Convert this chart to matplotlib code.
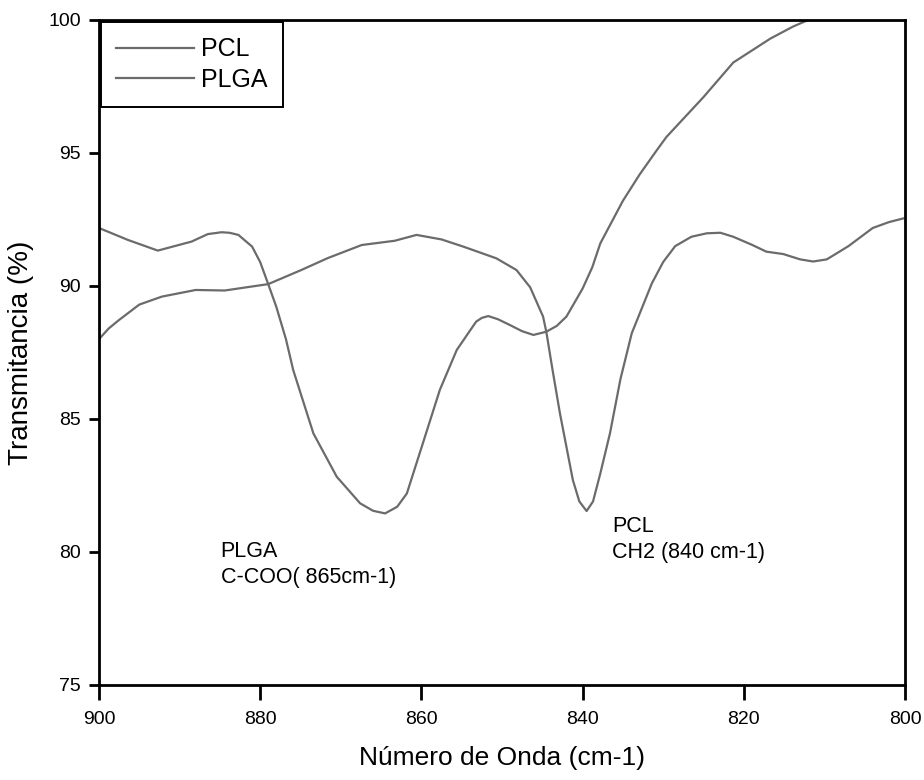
import matplotlib
matplotlib.use('Agg')
import matplotlib.pyplot as plt

# (wavenumber cm-1, transmittance %)
pcl_x = [900, 898.8, 897.6, 895, 892.2, 888, 884.4, 879, 874.9, 871.6, 867.4, 863.3,
         860.6, 857.5, 854.8, 850.7, 848.2, 846.5, 844.9, 844.5, 843.7, 842.8, 841.2,
         840.4, 839.5, 838.7, 837.8, 836.6, 835.3, 833.9, 831.4, 830, 828.5, 826.5,
         824.6, 822.9, 821.3, 819, 817.2, 815.1, 813, 811.4, 809.7, 807, 804, 802, 800.2]
pcl_y = [88.0, 88.4, 88.7, 89.3, 89.6, 89.85, 89.83, 90.07, 90.6, 91.05, 91.54, 91.7,
         91.92, 91.75, 91.48, 91.04, 90.6, 89.95, 88.85, 88.28, 86.8, 85.2, 82.7,
         81.9, 81.54, 81.9, 82.95, 84.46, 86.5, 88.22, 90.1, 90.9, 91.5, 91.85,
         91.98, 92.0, 91.85, 91.55, 91.29, 91.2, 91.0, 90.92, 91.0, 91.5, 92.18, 92.4, 92.54]

plga_x = [900, 896.4, 892.7, 888.5, 886.5, 884.8, 883.8, 882.7, 881, 880, 879, 878,
          876.8, 875.9, 873.4, 870.5, 867.6, 866, 864.5, 863, 861.8, 859.8, 857.7,
          855.6, 853.2, 852.5, 851.7, 850.5, 849, 847.5, 846.1, 844.5, 843.2, 842,
          840, 838.8, 837.8, 835, 832.9, 830.8, 829.6, 825, 821.3, 816.7, 813.9, 812]
plga_y = [92.18, 91.73, 91.33, 91.67, 91.95, 92.02, 92.0, 91.92, 91.48, 90.9, 90.07, 89.22,
          88.0, 86.84, 84.46, 82.83, 81.83, 81.55, 81.45, 81.7, 82.2, 84.1, 86.1,
          87.6, 88.66, 88.8, 88.87, 88.75, 88.53, 88.3, 88.16, 88.28, 88.5, 88.85,
          89.9, 90.7, 91.6, 93.2, 94.2, 95.1, 95.6, 97.1, 98.4, 99.3, 99.75, 100]

x_ticks = [900, 880, 860, 840, 820, 800]
y_ticks = [75, 80, 85, 90, 95, 100]

plt.rcParams['font.family'] = ['Liberation Sans', 'DejaVu Sans']

fig = plt.figure(figsize=(9.24, 7.8), dpi=100)
ax = fig.add_axes([0.1071, 0.1218, 0.8723, 0.8526])

line_color = '#6b6b6b'
ax.plot(pcl_x, pcl_y, color=line_color, lw=1.6, label='PCL', solid_joinstyle='round')
ax.plot(plga_x, plga_y, color=line_color, lw=1.6, label='PLGA', solid_joinstyle='round')

ax.set_xlim(900, 800)
ax.set_ylim(75, 100)
ax.set_xticks(x_ticks)
ax.set_yticks(y_ticks)
ax.tick_params(direction='out', length=7, width=2, labelsize=14, pad=6)
ax.tick_params(axis='x', length=11, pad=8)
for s in ax.spines.values():
    s.set_linewidth(2.0)
    s.set_color('black')

ax.set_xlabel('Número de Onda (cm-1)', fontsize=19, labelpad=13)
ax.set_ylabel('Transmitancia (%)', fontsize=20, labelpad=10)

# band labels
ax.text(884.9, 80.42, 'PLGA\nC-COO( 865cm-1)', fontsize=15.5, va='top', ha='left', linespacing=1.3)
ax.text(836.3, 81.35, 'PCL\nCH2 (840 cm-1)', fontsize=15.5, va='top', ha='left', linespacing=1.3)

leg = ax.legend(loc='upper left', bbox_to_anchor=(0, 1), borderaxespad=0.1, fontsize=18,
                handlelength=3.1, handletextpad=0.3, labelspacing=0.25, borderpad=0.6,
                fancybox=False, framealpha=1)
leg.get_frame().set_edgecolor('black')
leg.get_frame().set_linewidth(1.4)

plt.savefig('out.png', dpi=100)
